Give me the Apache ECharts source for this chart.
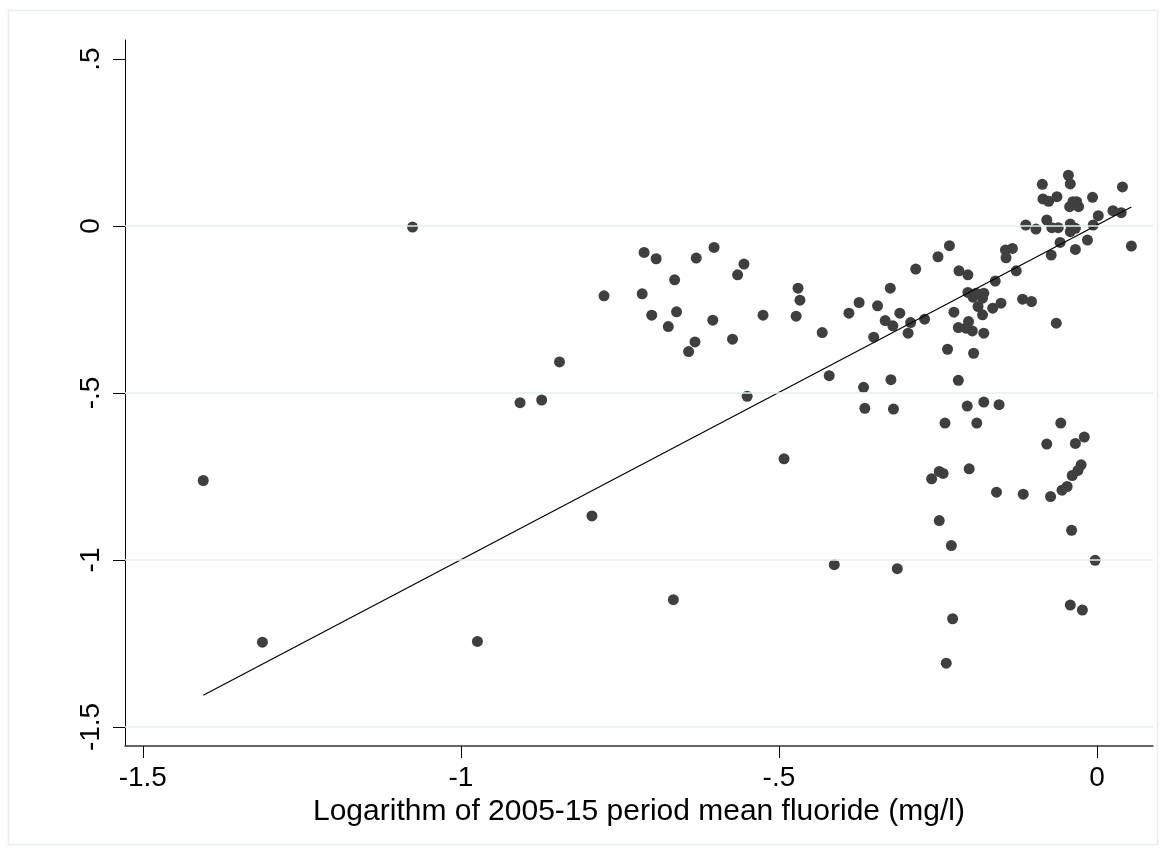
<!DOCTYPE html>
<html>
<head>
<meta charset="utf-8">
<script src="https://cdn.jsdelivr.net/npm/echarts@6/dist/echarts.min.js"></script>
<style>
  html, body { margin: 0; padding: 0; background: #fff; }
  #chart { width: 1166px; height: 855px; }
</style>
</head>
<body>
<div id="chart"></div>
<script>
// ---- data ----
const xAxisTitle = 'Logarithm of 2005-15 period mean fluoride (mg/l)';
const xTickValues = [-1.5, -1, -0.5, 0];
const xTickLabels = ['-1.5', '-1', '-.5', '0'];
const yTickValues = [-1.5, -1, -0.5, 0, 0.5];
const yTickLabels = ['-1.5', '-1', '-.5', '0', '.5'];
const gridValues = [-1.5, -1, -0.5, 0];
const xRange = [-1.528, 0.088];
const yRange = [-1.557, 0.557];

const logFluoride = [
  -1.405,-1.312,-0.974,-1.076,-0.907,-0.873,-0.845,-0.775,-0.712,-0.693,
  -0.630,-0.602,-0.555,-0.565,-0.664,-0.715,-0.700,-0.661,-0.674,-0.604,
  -0.632,-0.642,-0.573,-0.525,-0.470,-0.467,-0.473,-0.432,-0.550,-0.492,
  -0.794,-0.666,-0.413,-0.314,-0.390,-0.374,-0.345,-0.325,-0.285,-0.250,
  -0.310,-0.333,-0.321,-0.351,-0.293,-0.297,-0.271,-0.232,-0.217,-0.203,
  -0.160,-0.127,-0.144,-0.133,-0.143,-0.203,-0.190,-0.178,-0.195,-0.180,
  -0.187,-0.164,-0.151,-0.117,-0.103,-0.180,-0.225,-0.202,-0.218,-0.206,
  -0.196,-0.178,-0.235,-0.194,-0.064,-0.045,-0.042,-0.086,0.040,-0.085,
  -0.076,-0.063,-0.007,-0.038,-0.032,-0.043,-0.029,0.002,0.025,0.038,
  -0.112,-0.096,-0.079,-0.071,-0.061,-0.042,-0.034,-0.042,-0.006,-0.058,
  -0.072,-0.034,-0.015,0.054,-0.421,-0.367,-0.324,-0.365,-0.320,-0.218,
  -0.204,-0.178,-0.154,-0.239,-0.189,-0.057,-0.079,-0.034,-0.020,-0.248,
  -0.242,-0.260,-0.201,-0.158,-0.116,-0.073,-0.055,-0.047,-0.039,-0.030,
  -0.025,-0.248,-0.040,-0.229,-0.003,-0.042,-0.023,-0.227,-0.237
];
const outcome = [
  -0.762,-1.246,-1.244,-0.003,-0.529,-0.521,-0.407,-0.209,-0.079,-0.098,
  -0.096,-0.064,-0.114,-0.146,-0.161,-0.203,-0.267,-0.257,-0.301,-0.282,
  -0.347,-0.376,-0.339,-0.267,-0.186,-0.222,-0.270,-0.319,-0.510,-0.697,
  -0.868,-1.119,-1.014,-1.026,-0.261,-0.229,-0.239,-0.186,-0.129,-0.092,
  -0.261,-0.283,-0.299,-0.333,-0.289,-0.321,-0.279,-0.059,-0.134,-0.146,
  -0.165,-0.134,-0.072,-0.067,-0.095,-0.199,-0.201,-0.201,-0.213,-0.216,
  -0.241,-0.246,-0.231,-0.219,-0.226,-0.266,-0.258,-0.286,-0.304,-0.306,
  -0.314,-0.321,-0.369,-0.381,-0.291,0.152,0.126,0.125,0.117,0.081,
  0.074,0.088,0.086,0.073,0.073,0.058,0.058,0.031,0.046,0.040,
  0.003,-0.009,0.018,-0.005,-0.005,0.006,-0.007,-0.017,0.003,-0.049,
  -0.087,-0.070,-0.042,-0.060,-0.448,-0.483,-0.460,-0.546,-0.548,-0.462,
  -0.539,-0.527,-0.535,-0.590,-0.590,-0.590,-0.653,-0.651,-0.632,-0.735,
  -0.741,-0.757,-0.727,-0.797,-0.803,-0.810,-0.791,-0.780,-0.747,-0.732,
  -0.715,-0.882,-0.911,-0.957,-1.001,-1.135,-1.150,-1.176,-1.309
];
// fitted linear prediction
const fitIntercept = 0.003;
const fitSlope = 1.002;

// ---- build ----
const points = logFluoride.map((x, i) => [x, outcome[i]]);
const fxMin = Math.min(...logFluoride);
const fxMax = Math.max(...logFluoride);
const fitPoints = [fxMin, fxMax].map(x => [x, fitIntercept + fitSlope * x]);

function lookup(vals, labels) {
  return function (v) {
    for (let i = 0; i < vals.length; i++) {
      if (Math.abs(vals[i] - v) < 1e-9) return labels[i];
    }
    return '';
  };
}

const FONT = '"Liberation Sans", Arial, Helvetica, sans-serif';
const chart = echarts.init(document.getElementById('chart'), null, { renderer: 'canvas' });
chart.setOption({
  animation: false,
  backgroundColor: '#ffffff',
  graphic: [{
    type: 'rect',
    shape: { x: 8.5, y: 10.5, width: 1149, height: 834 },
    style: { fill: 'none', stroke: '#e6eef0', lineWidth: 1.5 },
    silent: true,
    z: 0
  }],
  grid: { left: 125, right: 13, top: 40, bottom: 109, containLabel: false },
  xAxis: {
    type: 'value',
    min: xRange[0],
    max: xRange[1],
    name: xAxisTitle,
    nameLocation: 'middle',
    nameGap: 47,
    nameTextStyle: { fontSize: 30, color: '#000', fontFamily: FONT },
    axisLine: { show: true, onZero: false, lineStyle: { color: '#333', width: 1.5 } },
    axisTick: { show: true, length: 12, inside: false, customValues: xTickValues, lineStyle: { color: '#000', width: 1 } },
    axisLabel: {
      customValues: xTickValues,
      formatter: lookup(xTickValues, xTickLabels),
      fontSize: 28, color: '#000', fontFamily: FONT, margin: 18
    },
    splitLine: { show: false }
  },
  yAxis: {
    type: 'value',
    min: yRange[0],
    max: yRange[1],
    axisLine: { show: true, onZero: false, lineStyle: { color: '#000', width: 1 } },
    axisTick: { show: true, length: 12, inside: false, customValues: yTickValues, lineStyle: { color: '#000', width: 1 } },
    axisLabel: {
      customValues: yTickValues,
      formatter: lookup(yTickValues, yTickLabels),
      rotate: 90,
      fontSize: 28, color: '#000', fontFamily: FONT, margin: 20
    },
    splitLine: { show: false }
  },
  series: [
    {
      type: 'line',
      data: [],
      z: 1,
      silent: true,
      markLine: {
        silent: true,
        symbol: ['none', 'none'],
        label: { show: false },
        lineStyle: { color: '#e4eef0', width: 1.6, type: 'solid' },
        data: gridValues.map(v => ({ yAxis: v }))
      }
    },
    {
      type: 'scatter',
      data: points,
      symbol: 'circle',
      symbolSize: 11,
      itemStyle: { color: '#3f3f3f', opacity: 1 },
      z: 2
    },
    {
      type: 'line',
      data: fitPoints,
      showSymbol: false,
      symbol: 'none',
      lineStyle: { color: '#000', width: 1.2 },
      z: 3
    }
  ]
});
</script>
</body>
</html>
